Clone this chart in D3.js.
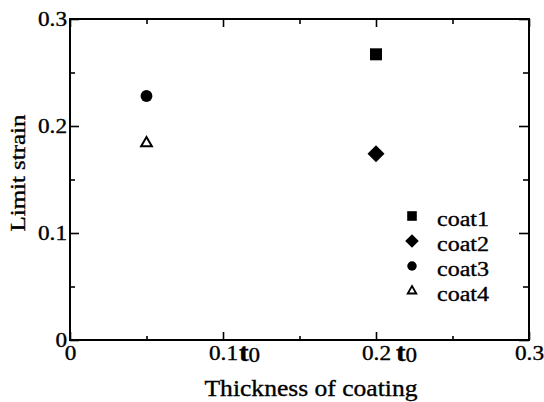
<!DOCTYPE html>
<html>
<head>
<meta charset="utf-8">
<script src="https://cdn.jsdelivr.net/npm/d3@7"></script>
<style>
  body { margin: 0; background: #fff; }
  text { font-family: "Liberation Serif", "Times New Roman", serif; fill: #000; stroke: #000; stroke-width: 0.35px; }
</style>
</head>
<body>
<div id="chart"></div>
<script>

let series = ['coat1', 'coat2', 'coat3', 'coat4']
let thickness = [0.2, 0.2, 0.05, 0.05]
let limitStrain = [0.267, 0.174, 0.228, 0.184]
let shapes = ['square', 'diamond', 'circle', 'triangle']

let majorTicks = [0, 0.1, 0.2, 0.3]
let minorTicks = [0.05, 0.15, 0.25]

let width = 544, height = 402

let svg = d3.select('#chart').append('svg')
    .attr('width', width)
    .attr('height', height)

let x = d3.scaleLinear().domain([0, 0.3]).range([70, 529])
let y = d3.scaleLinear().domain([0, 0.3]).range([340, 19])

// stretch text horizontally, the original font is wider than Times
function widen(sel, k){
    sel.each(function(){
        let w = this.getComputedTextLength()
        d3.select(this).attr('textLength', w * k).attr('lengthAdjust', 'spacingAndGlyphs')
    })
}

function fmt(d){
    return d === 0 ? '0' : d3.format('.1f')(d)
}

// frame
svg.append('rect')
    .attr('x', x(0))
    .attr('y', y(0.3))
    .attr('width', x(0.3) - x(0))
    .attr('height', y(0) - y(0.3))
    .attr('fill', 'none')
    .attr('stroke', '#000')
    .attr('stroke-width', 2)

// bottom
let bottomAxis = svg.append('g')
    .attr('transform', 'translate(0,' + y(0) + ')')
    .call(d3.axisBottom(x).tickValues(majorTicks).tickSize(-8).tickPadding(6).tickFormat(fmt))
svg.append('g')
    .attr('transform', 'translate(0,' + y(0) + ')')
    .call(d3.axisBottom(x).tickValues(minorTicks).tickSize(-4).tickFormat(''))

// top
svg.append('g')
    .attr('transform', 'translate(0,' + y(0.3) + ')')
    .call(d3.axisTop(x).tickValues(majorTicks).tickSize(-8).tickFormat(''))
svg.append('g')
    .attr('transform', 'translate(0,' + y(0.3) + ')')
    .call(d3.axisTop(x).tickValues(minorTicks).tickSize(-5).tickFormat(''))

// left
svg.append('g')
    .attr('transform', 'translate(' + x(0) + ',0)')
    .call(d3.axisLeft(y).tickValues(majorTicks).tickSize(-9).tickPadding(3).tickFormat(fmt))
svg.append('g')
    .attr('transform', 'translate(' + x(0) + ',0)')
    .call(d3.axisLeft(y).tickValues(minorTicks).tickSize(-5).tickFormat(''))

// right
svg.append('g')
    .attr('transform', 'translate(' + x(0.3) + ',0)')
    .call(d3.axisRight(y).tickValues(majorTicks).tickSize(-10).tickFormat(''))
svg.append('g')
    .attr('transform', 'translate(' + x(0.3) + ',0)')
    .call(d3.axisRight(y).tickValues(minorTicks).tickSize(-6).tickFormat(''))

svg.selectAll('.domain').remove()
svg.selectAll('.tick line').attr('stroke', '#000').attr('stroke-width', 1.6)

svg.selectAll('.tick text')
    .attr('font-family', '"Liberation Serif", "Times New Roman", serif')
    .attr('font-size', 20)
    .attr('fill', '#000')

widen(svg.selectAll('.tick text'), 1.16)

// t0 after the 0.1 and 0.2 labels
bottomAxis.selectAll('.tick')
    .filter(function(d){ return d > 0 && d < 0.3 })
    .each(function(d){
        let lab = d3.select(this).select('text')
        let w = +lab.attr('textLength')
        let t = d3.select(this).append('text')
            .attr('x', w / 2 + (d > 0.15 ? 5 : 1))
            .attr('y', 21)
            .attr('text-anchor', 'start')
            .attr('font-family', '"Liberation Serif", "Times New Roman", serif')
        t.append('tspan')
            .attr('font-weight', 'bold')
            .attr('font-size', 25)
            .text('t')
        t.append('tspan')
            .attr('font-size', 20)
            .attr('dy', 1)
            .text('0')
        widen(t, 1.15)
    })

// points
function symbolFor(shape, big){
    let s = big ? 1 : 0.8
    if(shape === 'square') return d3.symbol().type(d3.symbolSquare).size(144 * s * s)()
    if(shape === 'diamond') return d3.symbol().type(d3.symbolSquare).size(144 * s * s)()
    if(shape === 'circle') return d3.symbol().type(d3.symbolCircle).size(110 * s * s)()
    return d3.symbol().type(d3.symbolTriangle).size(50 * s * s)()
}

let points = series.map(function(d, i){
    return {name: d, x: thickness[i], y: limitStrain[i], shape: shapes[i]}
})

svg.append('g')
    .selectAll('path')
    .data(points)
    .enter()
    .append('path')
    .attr('d', function(d){ return symbolFor(d.shape, true) })
    .attr('transform', function(d){
        let r = d.shape === 'diamond' ? ' rotate(45)' : ''
        return 'translate(' + x(d.x) + ',' + y(d.y) + ')' + r
    })
    .attr('fill', function(d){ return d.shape === 'triangle' ? '#fff' : '#000' })
    .attr('stroke', '#000')
    .attr('stroke-width', function(d){ return d.shape === 'triangle' ? 2 : 0 })

// legend
let legend = svg.append('g')
    .selectAll('g')
    .data(points)
    .enter()
    .append('g')
    .attr('transform', function(d, i){ return 'translate(412,' + (226 + i * 25) + ')' })

legend.append('path')
    .attr('d', function(d){ return symbolFor(d.shape, false) })
    .attr('transform', function(d){
        let r = d.shape === 'diamond' ? ' rotate(45)' : ''
        return 'translate(0,-10)' + r
    })
    .attr('fill', function(d){ return d.shape === 'triangle' ? '#fff' : '#000' })
    .attr('stroke', '#000')
    .attr('stroke-width', function(d){ return d.shape === 'triangle' ? 1.8 : 0 })

let legendText = legend.append('text')
    .attr('x', 25)
    .attr('y', 0)
    .attr('font-size', 20)
    .text(function(d){ return d.name })
widen(legendText, 1.2)

// axis titles
svg.append('text')
    .attr('x', 311)
    .attr('y', 396)
    .attr('text-anchor', 'middle')
    .attr('font-size', 23)
    .attr('textLength', 213)
    .attr('lengthAdjust', 'spacingAndGlyphs')
    .text('Thickness of coating')

svg.append('text')
    .attr('transform', 'translate(25,173) rotate(-90)')
    .attr('text-anchor', 'middle')
    .attr('font-size', 20)
    .attr('textLength', 117)
    .attr('lengthAdjust', 'spacingAndGlyphs')
    .text('Limit strain')

</script>
</body>
</html>
